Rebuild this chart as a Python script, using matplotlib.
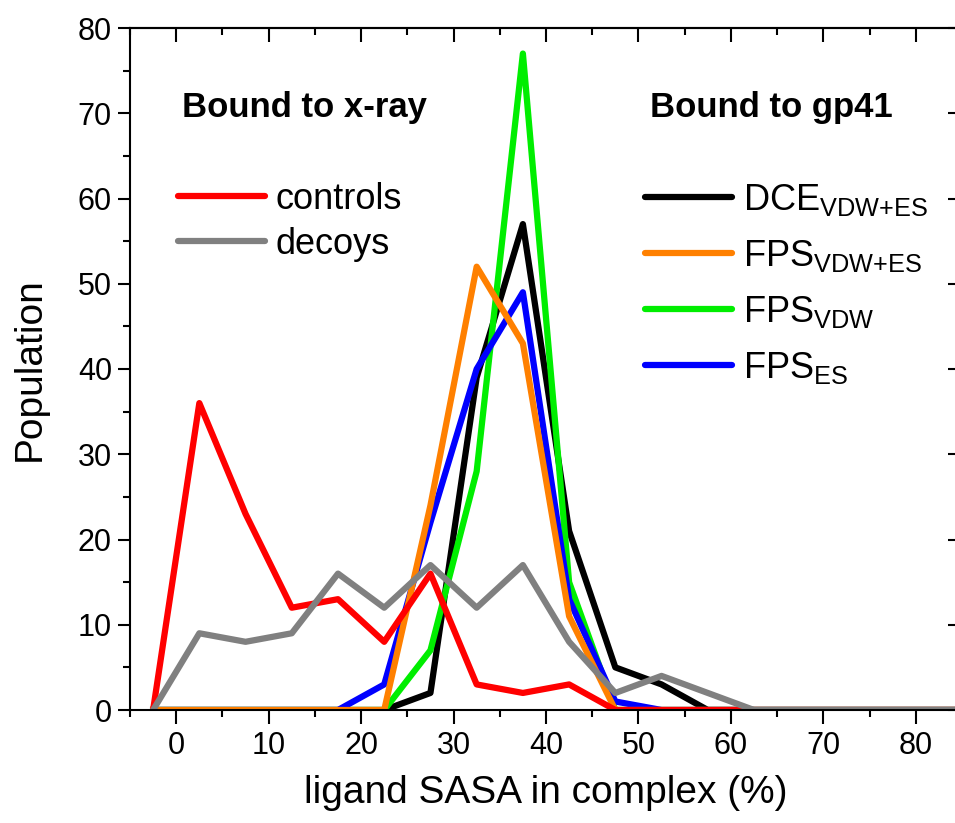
import matplotlib
matplotlib.use("Agg")
import matplotlib.pyplot as plt
from matplotlib.ticker import MultipleLocator
from matplotlib.lines import Line2D

plt.rcParams["font.family"] = ["Liberation Sans", "DejaVu Sans"]
plt.rcParams["mathtext.fontset"] = "custom"
plt.rcParams["mathtext.rm"] = "Liberation Sans"

# bin centres (ligand SASA %, 5 % bins)
sasa = [-2.5, 2.5, 7.5, 12.5, 17.5, 22.5, 27.5, 32.5, 37.5, 42.5,
        47.5, 52.5, 57.5, 62.5, 67.5, 72.5, 77.5, 82.5, 87.5]

# bound to x-ray
controls = [0, 36, 23, 12, 13, 8, 16, 3, 2, 3, 0, 0, 0, 0, 0, 0, 0, 0, 0]
decoys   = [0, 9, 8, 9, 16, 12, 17, 12, 17, 8, 2, 4, 2, 0, 0, 0, 0, 0, 0]

# bound to gp41
dce_vdw_es = [0, 0, 0, 0, 0, 0, 2, 39, 57, 21, 5, 3, 0, 0, 0, 0, 0, 0, 0]
fps_vdw_es = [0, 0, 0, 0, 0, 0, 24, 52, 43, 11, 0, 0, 0, 0, 0, 0, 0, 0, 0]
fps_vdw    = [0, 0, 0, 0, 0, 0, 7, 28, 77, 15, 0, 0, 0, 0, 0, 0, 0, 0, 0]
fps_es     = [0, 0, 0, 0, 0, 3, 22, 40, 49, 13, 1, 0, 0, 0, 0, 0, 0, 0, 0]

xray_labels = ["controls", "decoys"]
gp41_labels = [r"DCE$_{\mathregular{VDW{+}ES}}$", r"FPS$_{\mathregular{VDW{+}ES}}$",
               r"FPS$_{\mathregular{VDW}}$", r"FPS$_{\mathregular{ES}}$"]

C_RED, C_GRAY = "#ff0000", "#808080"
C_BLACK, C_ORANGE, C_GREEN, C_BLUE = "#000000", "#ff8000", "#00ee00", "#0000ff"
LW = 4.5

fig = plt.figure(figsize=(9.55, 8.23), dpi=100)
ax = fig.add_axes([130 / 955, 113 / 823, 832 / 955, 682 / 823])

# draw order: later on top
ax.plot(sasa, dce_vdw_es, color=C_BLACK, lw=LW)
ax.plot(sasa, fps_vdw, color=C_GREEN, lw=LW)
ax.plot(sasa, fps_es, color=C_BLUE, lw=LW)
ax.plot(sasa, fps_vdw_es, color=C_ORANGE, lw=LW)
ax.plot(sasa, controls, color=C_RED, lw=LW)
ax.plot(sasa, decoys, color=C_GRAY, lw=LW)

ax.set_xlim(-5, 85)
ax.set_ylim(0, 80)
ax.xaxis.set_major_locator(MultipleLocator(10))
ax.xaxis.set_minor_locator(MultipleLocator(5))
ax.yaxis.set_major_locator(MultipleLocator(10))
ax.yaxis.set_minor_locator(MultipleLocator(5))

for s in ax.spines.values():
    s.set_linewidth(1.5)

ax.tick_params(axis="both", which="both", width=1.5, labelsize=22)
ax.tick_params(axis="x", which="major", direction="out", length=10, pad=5)
ax.tick_params(axis="x", which="minor", direction="out", length=5)
ax.tick_params(axis="y", which="major", direction="out", length=9, pad=4)
ax.tick_params(axis="y", which="minor", direction="out", length=5)

# mirrored inward ticks on top / right
secx = ax.secondary_xaxis("top")
secx.xaxis.set_major_locator(MultipleLocator(10))
secx.xaxis.set_minor_locator(MultipleLocator(5))
secx.tick_params(which="major", direction="in", length=10, width=1.5, labeltop=False)
secx.tick_params(which="minor", direction="in", length=5, width=1.5)
secy = ax.secondary_yaxis("right")
secy.yaxis.set_major_locator(MultipleLocator(10))
secy.yaxis.set_minor_locator(MultipleLocator(5))
secy.tick_params(which="major", direction="in", length=10, width=1.5, labelright=False)
secy.tick_params(which="minor", direction="in", length=5, width=1.5)
for sa in (secx, secy):
    for s in sa.spines.values():
        s.set_linewidth(1.5)

ax.set_xlabel("ligand SASA in complex (%)", fontsize=28, labelpad=10)
ax.set_ylabel("Population", fontsize=28, labelpad=22)

# group headers
ax.text(0.0625, 0.884, "Bound to x-ray", transform=ax.transAxes,
        fontsize=25, fontweight="bold", ha="left", va="center")
ax.text(0.625, 0.884, "Bound to gp41", transform=ax.transAxes,
        fontsize=25, fontweight="bold", ha="left", va="center")

h_xray = [Line2D([], [], color=c, lw=LW, solid_capstyle="round") for c in (C_RED, C_GRAY)]
h_gp41 = [Line2D([], [], color=c, lw=LW, solid_capstyle="round")
          for c in (C_BLACK, C_ORANGE, C_GREEN, C_BLUE)]

leg1 = ax.legend(h_xray, xray_labels, loc="upper left", bbox_to_anchor=(0.0577, 0.774),
                 frameon=False, fontsize=26, handlelength=2.4, handletextpad=0.3,
                 labelspacing=0.27, borderpad=0, borderaxespad=0)
ax.add_artist(leg1)
ax.legend(h_gp41, gp41_labels, loc="upper left", bbox_to_anchor=(0.619, 0.774),
          frameon=False, fontsize=26, handlelength=2.4, handletextpad=0.3,
          labelspacing=0.55, borderpad=0, borderaxespad=0)

fig.savefig("out.png", dpi=100)
